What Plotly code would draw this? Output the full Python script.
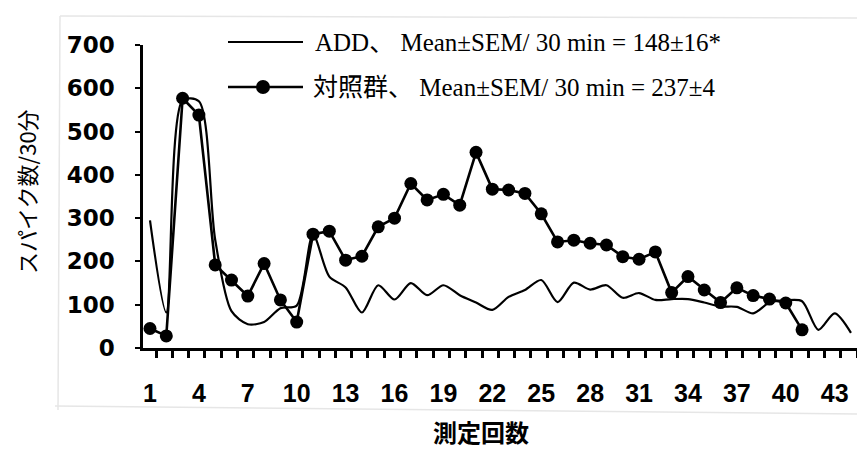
import plotly.graph_objects as go

# ---- data ----
add_x = list(range(1, 45))
add_y = [295, 82, 572, 570, 250, 85, 55, 60, 92, 98,
         262, 165, 140, 82, 145, 112, 150, 122, 145, 122,
         105, 88, 118, 134, 157, 106, 151, 135, 145, 116,
         127, 111, 113, 113, 105, 96, 95, 80, 105, 110,
         108, 42, 80, 35]

ctrl_x = list(range(1, 42))
ctrl_y = [45, 28, 577, 538, 192, 157, 120, 195, 111, 60,
          263, 270, 203, 212, 280, 300, 380, 342, 355, 330,
          452, 367, 365, 357, 310, 245, 249, 242, 238, 211,
          205, 222, 128, 165, 134, 105, 139, 121, 113, 104, 42]

x_tickvals = list(range(1, 44, 3))
x_ticktext = [str(v) for v in x_tickvals]
y_tickvals = [0, 100, 200, 300, 400, 500, 600, 700]

legend_add = "ADD、 Mean±SEM/ 30 min = 148±16*"
legend_ctrl = "対照群、 Mean±SEM/ 30 min = 237±4"
y_title = "スパイク数/30分"
x_title = "測定回数"

# ---- layout geometry (pixels) ----
WIDTH, HEIGHT = 857, 450
L, R, T, B = 143, 857, 45, 348
PW, PH = R - L, B - T


def px(xp):
    return (xp - L) / PW


def py(yp):
    return (B - yp) / PH


fig = go.Figure()
fig.add_trace(go.Scatter(
    x=add_x, y=add_y, mode="lines",
    line=dict(color="black", width=2.2, shape="spline", smoothing=0.8),
    cliponaxis=False, showlegend=False, name="ADD"))
fig.add_trace(go.Scatter(
    x=ctrl_x, y=ctrl_y, mode="lines+markers",
    line=dict(color="black", width=2.6),
    marker=dict(color="black", size=13),
    cliponaxis=False, showlegend=False, name="対照群"))

shapes = [
    # legend sample lines
    dict(type="line", xref="paper", yref="paper", x0=px(228), x1=px(303),
         y0=py(42), y1=py(42), line=dict(color="black", width=2)),
    dict(type="line", xref="paper", yref="paper", x0=px(228), x1=px(303),
         y0=py(87), y1=py(87), line=dict(color="black", width=2.6)),
    dict(type="circle", xref="paper", yref="paper",
         xsizemode="pixel", ysizemode="pixel",
         xanchor=px(263), yanchor=py(87), x0=-7, x1=7, y0=-7, y1=7,
         fillcolor="black", line=dict(color="black", width=0)),
    # faint scan frame
    dict(type="line", xref="paper", yref="paper", x0=px(60), x1=px(857),
         y0=py(16), y1=py(18), line=dict(color="#e6e6e6", width=1.5)),
    dict(type="line", xref="paper", yref="paper", x0=px(60), x1=px(58),
         y0=py(16), y1=py(410), line=dict(color="#e6e6e6", width=1.5)),
    dict(type="line", xref="paper", yref="paper", x0=px(55), x1=px(857),
         y0=py(406), y1=py(414), line=dict(color="#e6e6e6", width=1.5)),
]

legend_font = dict(family="Liberation Serif, Noto Sans CJK JP", size=25, color="black")
annotations = [
    dict(text=legend_add, xref="paper", yref="paper", x=px(313), y=py(42),
         xanchor="left", yanchor="middle", showarrow=False, font=legend_font),
    dict(text=legend_ctrl, xref="paper", yref="paper", x=px(311), y=py(87),
         xanchor="left", yanchor="middle", showarrow=False, font=legend_font),
    dict(text=y_title, xref="paper", yref="paper", x=px(26), y=py(192),
         xanchor="center", yanchor="middle", textangle=-90, showarrow=False,
         font=dict(family="Noto Sans CJK JP", size=22, color="black")),
    dict(text=x_title, xref="paper", yref="paper", x=px(481), y=py(431),
         xanchor="center", yanchor="middle", showarrow=False,
         font=dict(family="Noto Sans CJK JP", size=24, color="black", weight="bold")),
]

fig.update_layout(
    width=WIDTH, height=HEIGHT,
    margin=dict(l=L, r=WIDTH - R, t=T, b=HEIGHT - B, pad=0),
    paper_bgcolor="white", plot_bgcolor="white",
    shapes=shapes, annotations=annotations,
    xaxis=dict(
        range=[0.571, 44.37], showgrid=False, zeroline=False,
        showline=True, linecolor="black", linewidth=2.5,
        tickmode="array", tickvals=x_tickvals, ticktext=x_ticktext,
        ticks="outside", ticklen=7, tickcolor="rgba(0,0,0,0)",
        ticklabelstandoff=14,
        tickfont=dict(family="Liberation Sans", size=25, color="black", weight="bold"),
        minor=dict(ticks="outside", ticklen=7, tickwidth=2.5, tickcolor="black",
                   tick0=0.37, dtick=1, showgrid=False),
    ),
    yaxis=dict(
        range=[0, 700], showgrid=False, zeroline=False,
        showline=True, linecolor="black", linewidth=2.5,
        tickmode="array", tickvals=y_tickvals,
        ticks="outside", ticklen=5, tickwidth=2, tickcolor="black",
        ticklabelstandoff=16,
        tickfont=dict(family="DejaVu Sans", size=23, color="black", weight="bold"),
    ),
)

fig.write_html("out.html")
